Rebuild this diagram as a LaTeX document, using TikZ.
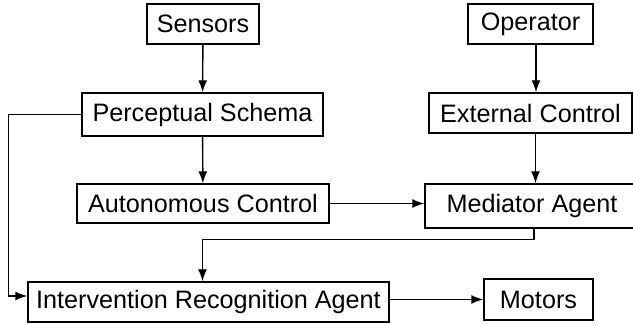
\documentclass[tikz,border=0pt]{standalone}
\usepackage{fontspec}
\setmainfont{Liberation Sans}
\usetikzlibrary{arrows.meta}

\tikzset{
  block/.style={draw, inner sep=0pt, font=\fontsize{12.6}{14}\selectfont},
}

\begin{document}
\begin{tikzpicture}[x=0.5pt, y=-0.5pt, line width=0.7pt, >={Latex[length=6pt,width=4.5pt]}]

\useasboundingbox (0,0) rectangle (633,325);

% boxes
\node[block, minimum width=56pt, minimum height=20pt] (sensors) at (203,24) {Sensors};
\node[block, minimum width=62.5pt, minimum height=20pt] (operator) at (530.5,24) {Operator};
\node[block, minimum width=120.5pt, minimum height=21.5pt] (percept) at (202.5,114.5) {Perceptual Schema};
\node[block, minimum width=101.5pt, minimum height=20pt] (external) at (530.5,113) {External Control};
\node[block, minimum width=126pt, minimum height=19.5pt] (autonomous) at (203,203.5) {Autonomous Control};
\node[block, minimum width=107pt, minimum height=22pt] (mediator) at (532,206) {Mediator Agent};
\node[block, minimum width=180.5pt, minimum height=20pt] (intervention) at (208.5,302) {Intervention Recognition Agent};
\node[block, minimum width=54.5pt, minimum height=20.5pt] (motors) at (538.5,299.5) {Motors};

% connectors
\draw[->] (sensors) -- (percept);
\draw[->] ([xshift=2.75pt]operator.south) -- ([xshift=2.75pt]operator.south |- external.north);
\draw[->] ([xshift=2.5pt]external.south) -- ([xshift=2.5pt]external.south |- mediator.north);
\draw[->] (percept) -- (autonomous);
\draw[->] (percept.west) -- ++(-73,0) |- ([yshift=3pt]intervention.west);
\draw[->] (autonomous.east) -- (autonomous.east -| mediator.west);
\draw[->] ([xshift=1pt]mediator.south) -- ++(0,11) -| (intervention.north -| percept.south);
\draw[->] (intervention.east |- motors.west) -- (motors.west);

\end{tikzpicture}
\end{document}
